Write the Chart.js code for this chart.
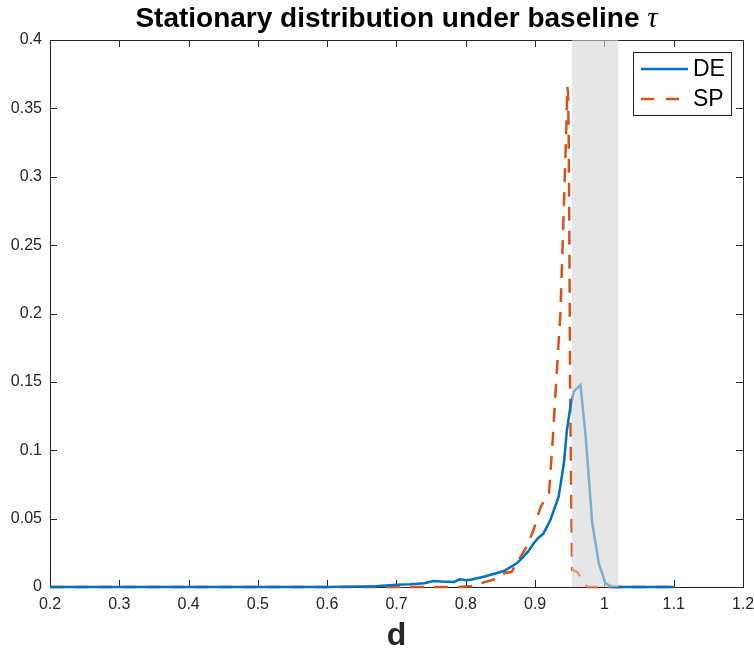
<!DOCTYPE html>
<html>
<head>
<meta charset="utf-8">
<script src="https://cdn.jsdelivr.net/npm/chart.js@4/dist/chart.umd.min.js"></script>
<style>
  html, body { margin: 0; padding: 0; background: #fff; }
  canvas { display: block; }
</style>
</head>
<body>
<canvas id="chart" width="754" height="651"></canvas>
<script>
// DE (solid blue)
const deX = [0.2, 0.6, 0.65, 0.67, 0.70, 0.72, 0.74, 0.753, 0.765, 0.783, 0.791, 0.802, 0.812, 0.826, 0.855,
    0.874, 0.883, 0.89, 0.898, 0.905, 0.912, 0.922, 0.934, 0.9415, 0.946, 0.951, 0.956, 0.9655, 0.973,
    0.9825, 0.992, 1.0015, 1.012, 1.1];
const deY = [0, 0, 0.0003, 0.0005, 0.0017, 0.002, 0.0027, 0.0044, 0.004, 0.0037, 0.0056, 0.005, 0.0058, 0.0075, 0.0117,
    0.0175, 0.022, 0.026, 0.032, 0.036, 0.039, 0.049, 0.066, 0.0905, 0.115, 0.132, 0.143, 0.1477, 0.11,
    0.0466, 0.0173, 0.0027, 0, 0];

// SP (dashed orange)
const spX = [0.2, 0.79, 0.81, 0.826, 0.847, 0.857, 0.866, 0.874, 0.888, 0.898, 0.908, 0.92, 0.925, 0.9295,
    0.934, 0.9365, 0.94, 0.943, 0.945, 0.9465, 0.9475, 0.9485, 0.9495, 0.9505, 0.9525, 0.9535, 0.961,
    0.968, 0.975, 1.1];
const spY = [0, 0, 0.0007, 0.0034, 0.0064, 0.0105, 0.011, 0.018, 0.0295, 0.042, 0.0587, 0.0685, 0.104, 0.142,
    0.18, 0.2, 0.254, 0.3025, 0.334, 0.366, 0.362, 0.33, 0.25, 0.15, 0.05, 0.0124, 0.011,
    0.005, 0, 0];

// shaded region on d
const band = [0.953, 1.02];

const xRange = [0.2, 1.2];
const yRange = [0, 0.4];

const seriesNames = ['DE', 'SP'];
const seriesColors = ['#0072BD', '#D95319'];

const textColor = '#262626';
const sans = '"Liberation Sans", Arial, Helvetica, sans-serif';

Chart.defaults.font.family = sans;
Chart.defaults.font.size = 16;
Chart.defaults.color = textColor;

let toPoints = (xs, ys) => xs.map((x, i) => ({ x: x, y: ys[i] }));

let fmt = v => String(parseFloat(Number(v).toFixed(2)));

const decor = {
    id: 'decor',
    beforeDatasetsDraw(chart) {
        const { ctx, chartArea: a, scales: { x, y } } = chart;
        ctx.save();
        ctx.strokeStyle = textColor;
        ctx.lineWidth = 1;
        ctx.beginPath();
        x.ticks.forEach(t => {
            const px = Math.round(x.getPixelForValue(t.value)) + 0.5;
            ctx.moveTo(px, a.bottom); ctx.lineTo(px, a.bottom - 7);
            ctx.moveTo(px, a.top); ctx.lineTo(px, a.top + 7);
        });
        y.ticks.forEach(t => {
            const py = Math.round(y.getPixelForValue(t.value)) + 0.5;
            ctx.moveTo(a.left, py); ctx.lineTo(a.left + 7, py);
            ctx.moveTo(a.right, py); ctx.lineTo(a.right - 7, py);
        });
        ctx.stroke();
        ctx.strokeRect(Math.round(a.left) + 0.5, Math.round(a.top) + 0.5,
            Math.round(a.right - a.left), Math.round(a.bottom - a.top));
        ctx.restore();
    },
    afterDatasetsDraw(chart) {
        const { ctx, chartArea: a, scales: { x } } = chart;
        const x0 = x.getPixelForValue(band[0]);
        const x1 = x.getPixelForValue(band[1]);
        ctx.save();
        ctx.fillStyle = 'rgba(213, 213, 213, 0.6)';
        ctx.fillRect(x0, a.top, x1 - x0, a.bottom - a.top);
        ctx.restore();
    },
    afterDraw(chart) {
        const { ctx, chartArea: a } = chart;
        const cx = (a.left + a.right) / 2;
        ctx.save();

        // title
        const t1 = 'Stationary distribution under baseline ';
        const t2 = 'τ';
        ctx.fillStyle = '#000';
        ctx.textBaseline = 'alphabetic';
        ctx.font = 'bold 28px ' + sans;
        const w1 = ctx.measureText(t1).width;
        ctx.font = 'italic 29px "Liberation Serif", "DejaVu Serif", serif';
        const w2 = ctx.measureText(t2).width;
        const start = cx - (w1 + w2) / 2;
        ctx.font = 'bold 28px ' + sans;
        ctx.textAlign = 'left';
        ctx.fillText(t1, start, 27);
        ctx.font = 'italic 29px "Liberation Serif", "DejaVu Serif", serif';
        ctx.fillText(t2, start + w1, 27);

        // x axis label
        ctx.fillStyle = textColor;
        ctx.font = 'bold 32px ' + sans;
        ctx.textAlign = 'center';
        ctx.fillText('d', cx, 645);

        // legend
        const lx = 633.5, ly = 52.5, lw = 98, lh = 63;
        ctx.fillStyle = '#fff';
        ctx.fillRect(lx, ly, lw, lh);
        ctx.strokeStyle = textColor;
        ctx.lineWidth = 1;
        ctx.strokeRect(lx, ly, lw, lh);
        const rows = [69, 99];
        rows.forEach((ry, i) => {
            ctx.strokeStyle = seriesColors[i];
            ctx.lineWidth = 2.5;
            ctx.setLineDash(i === 1 ? [13, 12] : []);
            ctx.beginPath();
            ctx.moveTo(641, ry);
            ctx.lineTo(688, ry);
            ctx.stroke();
            ctx.setLineDash([]);
            ctx.fillStyle = '#000';
            ctx.font = '23px ' + sans;
            ctx.textAlign = 'left';
            ctx.textBaseline = 'middle';
            ctx.fillText(seriesNames[i], 693, ry + 1);
        });
        ctx.restore();
    }
};

new Chart(document.getElementById('chart'), {
    type: 'line',
    data: {
        datasets: [
            {
                label: seriesNames[0],
                data: toPoints(deX, deY),
                borderColor: seriesColors[0],
                borderWidth: 2.5,
                pointRadius: 0,
                tension: 0,
                clip: 5
            },
            {
                label: seriesNames[1],
                data: toPoints(spX, spY),
                borderColor: seriesColors[1],
                borderWidth: 2.5,
                borderDash: [14, 10],
                pointRadius: 0,
                tension: 0,
                clip: 5
            }
        ]
    },
    options: {
        responsive: false,
        animation: false,
        layout: {
            padding: { top: 40, right: 0, left: 0, bottom: 0 }
        },
        plugins: {
            legend: { display: false },
            title: { display: false },
            tooltip: { enabled: false }
        },
        scales: {
            x: {
                type: 'linear',
                min: xRange[0],
                max: xRange[1],
                grid: { display: false, drawTicks: false },
                border: { display: false },
                ticks: { stepSize: 0.1, padding: 8, maxRotation: 0, callback: fmt },
                afterFit: s => {
                    s.height = 64;
                    s.paddingLeft = 0;
                    s.paddingRight = 11;
                }
            },
            y: {
                type: 'linear',
                min: yRange[0],
                max: yRange[1],
                grid: { display: false, drawTicks: false },
                border: { display: false },
                ticks: { stepSize: 0.05, padding: 8, callback: fmt },
                afterFit: s => {
                    s.width = 50;
                    s.paddingTop = 0;
                    s.paddingBottom = 0;
                }
            }
        }
    },
    plugins: [decor]
});
</script>
</body>
</html>
